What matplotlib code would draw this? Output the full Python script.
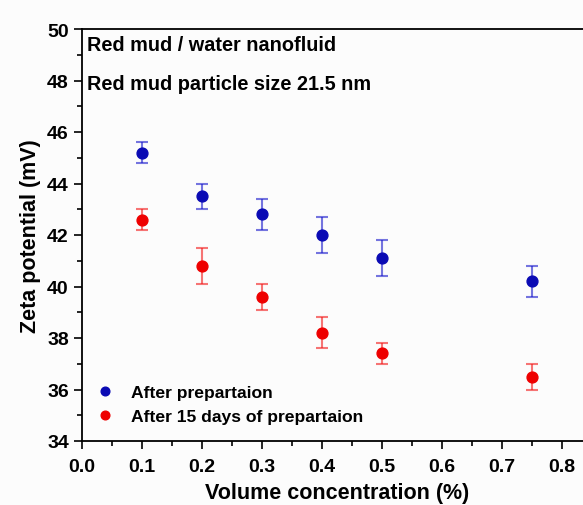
import matplotlib
matplotlib.use("Agg")
from matplotlib import pyplot as plt
from matplotlib.ticker import MultipleLocator

# data
conc = [0.1, 0.2, 0.3, 0.4, 0.5, 0.75]
zeta_fresh = [45.2, 43.5, 42.8, 42.0, 41.1, 40.2]
err_fresh = [0.4, 0.5, 0.6, 0.7, 0.7, 0.6]
zeta_15d = [42.6, 40.8, 39.6, 38.2, 37.4, 36.5]
err_15d = [0.4, 0.7, 0.5, 0.6, 0.4, 0.5]

plt.rcParams['font.family'] = ['Liberation Sans', 'DejaVu Sans']
plt.rcParams['font.weight'] = 'bold'

W, H = 583, 506
fig = plt.figure(figsize=(W / 100, H / 100), dpi=100)
fig.patch.set_facecolor('#fcfcfc')
x0, y0 = 82, 442
ax = fig.add_axes([x0 / W, (H - y0) / H, 0.85 * 600 / W, 412 / H])
ax.set_facecolor('#fcfcfc')

e1 = ax.errorbar(conc, zeta_fresh, yerr=err_fresh, fmt='o', color='#0a0ab4', ms=7.8,
                 ecolor=(0.1, 0.1, 0.8, 0.6), elinewidth=1.5, capsize=4, capthick=1.5)
e2 = ax.errorbar(conc, zeta_15d, yerr=err_15d, fmt='o', color='#ee0000', ms=7.8,
                 ecolor=(0.95, 0.1, 0.1, 0.6), elinewidth=1.5, capsize=4, capthick=1.5)

ax.set_xlim(0, 0.85)
ax.set_ylim(34, 50)
ax.xaxis.set_minor_locator(MultipleLocator(0.05))
ax.yaxis.set_major_locator(MultipleLocator(2))
ax.yaxis.set_minor_locator(MultipleLocator(1))
ax.set_xticks([0.0, 0.1, 0.2, 0.3, 0.4, 0.5, 0.6, 0.7, 0.8])
ax.set_xticklabels(['0.0', '0.1', '0.2', '0.3', '0.4', '0.5', '0.6', '0.7', '0.8'])
ax.tick_params(which='major', direction='out', length=6, width=1.2, labelsize=14)
ax.tick_params(axis='x', which='major', pad=6)
ax.tick_params(which='minor', direction='out', length=3.5, width=1.2)
ax.spines['right'].set_visible(False)
for s in ['left', 'bottom', 'top']:
    ax.spines[s].set_linewidth(1.3)

ax.set_xlabel('Volume concentration (%)', fontsize=15.5, fontweight='bold', labelpad=5)
ax.set_ylabel('Zeta potential (mV)', fontsize=15.5, fontweight='bold', labelpad=4)

ax.text(0.009, 49.38, 'Red mud / water nanofluid', fontsize=14.3, fontweight='bold', va='center')
ax.text(0.009, 47.9, 'Red mud particle size 21.5 nm', fontsize=14.3, fontweight='bold', va='center')

ax.legend(handles=[e1[0], e2[0]],
          labels=['After prepartaion', 'After 15 days of prepartaion'],
          loc='lower left', bbox_to_anchor=(-0.02, 0.003), frameon=False,
          fontsize=12.6, handletextpad=0.5, markerscale=0.8, labelspacing=0.5)

fig.savefig('out.png', dpi=100, facecolor=fig.get_facecolor())
